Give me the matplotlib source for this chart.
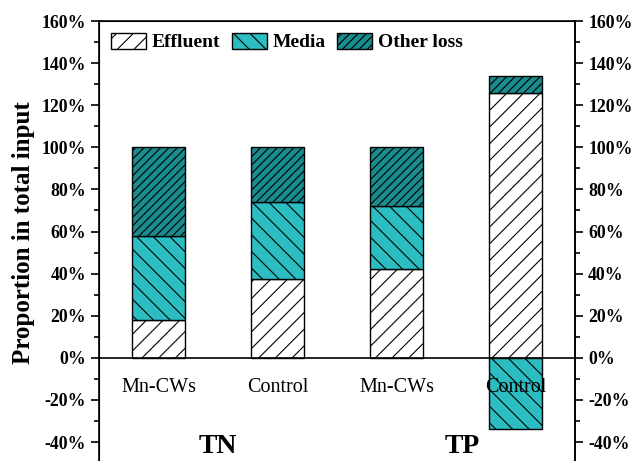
import matplotlib
matplotlib.use('Agg')
import matplotlib.pyplot as plt
import numpy as np
from matplotlib.ticker import MultipleLocator, FuncFormatter

plt.rcParams['font.family'] = 'Liberation Serif'
plt.rcParams['hatch.linewidth'] = 0.8

categories = ['Mn-CWs', 'Control', 'Mn-CWs', 'Control']
groups = ['TN', 'TP']
effluent = [18, 37.5, 42, 126]
media = [40, 36.5, 30, -34]
other_loss = [42, 26, 28, 8]

fig = plt.figure(figsize=(6.36, 4.61), dpi=100)
ax = fig.add_axes([99/636, 0, 476/636, 440/461])

x = np.arange(1, len(categories) + 1)
w = 0.45
c_media = '#2bbdc1'
c_other = '#1a8c8d'

# media below zero when negative, otherwise stacked on effluent
media_bottom = [e if m >= 0 else 0 for e, m in zip(effluent, media)]
other_bottom = [e + max(m, 0) for e, m in zip(effluent, media)]

ax.bar(x, effluent, w, color='white', edgecolor='black', hatch='//', lw=1, label='Effluent', zorder=2)
ax.bar(x, media, w, bottom=media_bottom, color=c_media, edgecolor='black', hatch='\\\\', lw=1, label='Media', zorder=2)
ax.bar(x, other_loss, w, bottom=other_bottom, color=c_other, edgecolor='black', hatch='////', lw=1, label='Other loss', zorder=2)

ax.axhline(0, color='black', lw=1.2, zorder=3)

ax.set_xlim(0.5, 4.5)
ax.set_ylim(-49, 160)
ax.set_xticks([])
ax.spines['bottom'].set_visible(False)
for s in ['left', 'right', 'top']:
    ax.spines[s].set_linewidth(1.2)

ax.yaxis.set_major_locator(MultipleLocator(20))
ax.yaxis.set_minor_locator(MultipleLocator(10))
ax.yaxis.set_major_formatter(FuncFormatter(lambda v, p: f'{v:.0f}%'))
ax.tick_params(axis='y', which='major', direction='out', length=6, width=1.2, labelsize=12.8)
ax.tick_params(axis='y', which='minor', direction='out', length=3.5, width=1.2)
for lab in ax.get_yticklabels():
    lab.set_fontweight('bold')

ax2 = ax.twinx()
ax2.set_ylim(ax.get_ylim())
ax2.spines['bottom'].set_visible(False)
ax2.spines['right'].set_linewidth(1.2)
ax2.yaxis.set_major_locator(MultipleLocator(20))
ax2.yaxis.set_minor_locator(MultipleLocator(10))
ax2.yaxis.set_major_formatter(FuncFormatter(lambda v, p: f'{v:.0f}%'))
ax2.tick_params(axis='y', which='major', direction='out', length=6, width=1.2, labelsize=12.8)
ax2.tick_params(axis='y', which='minor', direction='out', length=3.5, width=1.2)
for lab in ax2.get_yticklabels():
    lab.set_fontweight('bold')

ax.set_ylabel('Proportion in total input', fontsize=18, fontweight='bold', labelpad=0)
ax.yaxis.set_label_coords(-0.135, 0.52)

for xi, c in zip(x, categories):
    ax.text(xi, -14, c, ha='center', va='center', fontsize=14.5, zorder=4)

ax.text(1.5, -42, groups[0], ha='center', va='center', fontsize=20, fontweight='bold')
ax.text(3.55, -42, groups[1], ha='center', va='center', fontsize=20, fontweight='bold')

ax.legend(loc='upper left', ncol=3, frameon=False, prop={'weight': 'bold', 'size': 14},
          handlelength=1.8, handleheight=0.9, columnspacing=0.6, handletextpad=0.3,
          borderaxespad=0.2, bbox_to_anchor=(0.0, 1.0))

fig.savefig('out.png', dpi=100)
